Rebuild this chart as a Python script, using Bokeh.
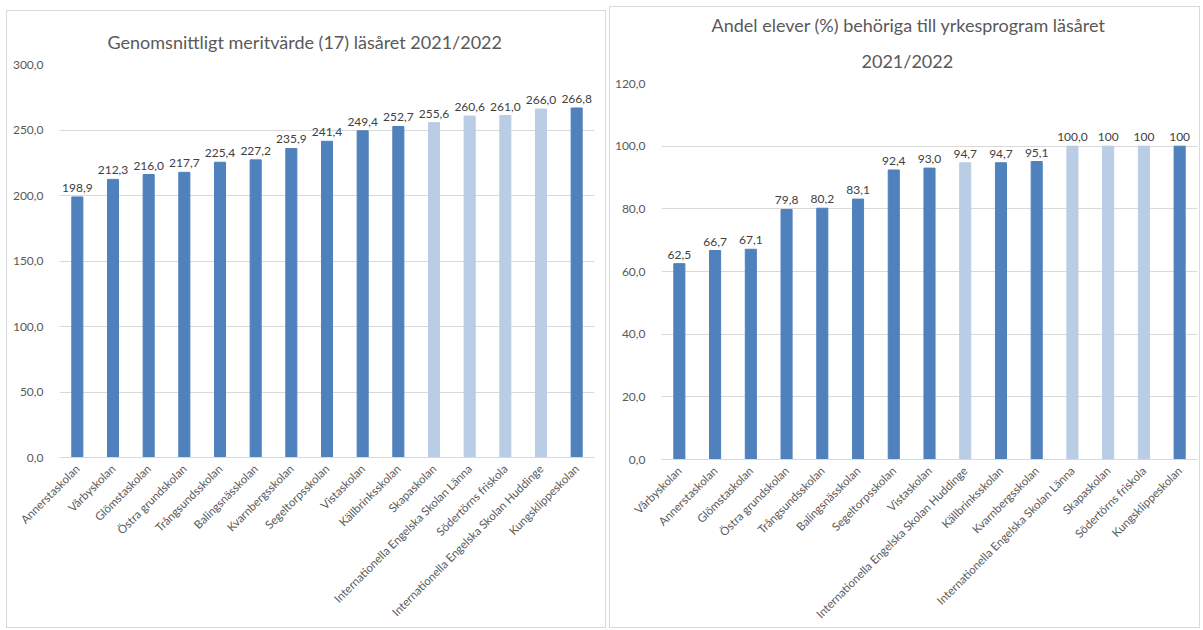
import math
from bokeh.plotting import figure
from bokeh.models import ColumnDataSource, FactorRange, Range1d, FixedTicker, Title, Spacer
from bokeh.layouts import row, column
from bokeh.embed import file_html
from bokeh.resources import INLINE

# ---- data: chart 1 ----
schools1 = ["Annerstaskolan", "Vårbyskolan", "Glömstaskolan", "Östra grundskolan",
            "Trångsundsskolan", "Balingsnässkolan", "Kvarnbergsskolan", "Segeltorpsskolan",
            "Vistaskolan", "Källbrinksskolan", "Skapaskolan",
            "Internationella Engelska Skolan Länna", "Södertörns friskola",
            "Internationella Engelska Skolan Huddinge", "Kungsklippeskolan"]
merit = [198.9, 212.3, 216.0, 217.7, 225.4, 227.2, 235.9, 241.4, 249.4, 252.7,
         255.6, 260.6, 261.0, 266.0, 266.8]
merit_labels = ["198,9", "212,3", "216,0", "217,7", "225,4", "227,2", "235,9", "241,4",
                "249,4", "252,7", "255,6", "260,6", "261,0", "266,0", "266,8"]
independent1 = [0, 0, 0, 0, 0, 0, 0, 0, 0, 0, 1, 1, 1, 1, 0]
yticks1 = [0, 50, 100, 150, 200, 250, 300]
ytick_labels1 = ["0,0", "50,0", "100,0", "150,0", "200,0", "250,0", "300,0"]
title1 = ["Genomsnittligt meritvärde (17) läsåret 2021/2022"]

# ---- data: chart 2 ----
schools2 = ["Vårbyskolan", "Annerstaskolan", "Glömstaskolan", "Östra grundskolan",
            "Trångsundsskolan", "Balingsnässkolan", "Segeltorpsskolan", "Vistaskolan",
            "Internationella Engelska Skolan Huddinge", "Källbrinksskolan",
            "Kvarnbergsskolan", "Internationella Engelska Skolan Länna", "Skapaskolan",
            "Södertörns friskola", "Kungsklippeskolan"]
share = [62.5, 66.7, 67.1, 79.8, 80.2, 83.1, 92.4, 93.0, 94.7, 94.7, 95.1,
         100.0, 100.0, 100.0, 100.0]
share_labels = ["62,5", "66,7", "67,1", "79,8", "80,2", "83,1", "92,4", "93,0",
                "94,7", "94,7", "95,1", "100,0", "100", "100", "100"]
independent2 = [0, 0, 0, 0, 0, 0, 0, 0, 1, 0, 0, 1, 1, 1, 0]
yticks2 = [0, 20, 40, 60, 80, 100, 120]
ytick_labels2 = ["0,0", "20,0", "40,0", "60,0", "80,0", "100,0", "120,0"]
title2 = ["Andel elever (%) behöriga till yrkesprogram läsåret", "2021/2022"]

DARK = "#4f81bd"
LIGHT = "#b9cde5"
TXT = "#595959"
GRID = "#d9d9d9"
FONT = "Lato"


def make_chart(cats, vals, labels, indep, yticks, ylabels, ymax, titles, title_offsets,
               title_standoff, width, height, bl, br, bt, bb):
    colors = [LIGHT if f else DARK for f in indep]
    src = ColumnDataSource(dict(x=cats, top=vals, lab=labels, color=colors))
    p = figure(x_range=FactorRange(*cats), y_range=Range1d(0, ymax),
               width=width, height=height, output_backend="svg",
               toolbar_location=None, min_border_left=bl, min_border_right=br,
               min_border_top=bt, min_border_bottom=bb)
    p.vbar(x="x", top="top", width=0.31, color="color", source=src)
    p.text(x="x", y="top", text="lab", source=src, text_align="center",
           text_baseline="bottom", y_offset=-5, text_font_size="12px",
           text_color="#404040", text_font={"value": FONT})
    n = len(titles)
    for i in range(n - 1, -1, -1):
        p.add_layout(Title(text=titles[i], align="left", offset=title_offsets[i],
                           text_font_size="18px", text_font_style="normal",
                           text_color=TXT, text_font=FONT,
                           standoff=title_standoff if i == n - 1 else 0), "above")
    p.outline_line_color = None
    p.xgrid.grid_line_color = None
    p.ygrid.grid_line_color = GRID
    p.ygrid.ticker = FixedTicker(ticks=yticks)
    p.yaxis.ticker = FixedTicker(ticks=yticks)
    p.yaxis.major_label_overrides = {t: l for t, l in zip(yticks, ylabels)}
    p.yaxis.axis_line_color = None
    p.yaxis.major_tick_line_color = None
    p.yaxis.minor_tick_line_color = None
    p.yaxis.major_label_text_font_size = "12px"
    p.yaxis.major_label_text_color = TXT
    p.yaxis.major_label_text_font = FONT
    p.yaxis.major_label_standoff = 10
    p.xaxis.axis_line_color = GRID
    p.xaxis.major_tick_line_color = None
    p.xaxis.minor_tick_line_color = None
    p.xaxis.major_label_orientation = math.pi / 4
    p.xaxis.major_label_text_font_size = "11.5px"
    p.xaxis.major_label_text_color = TXT
    p.xaxis.major_label_text_font = FONT
    p.xaxis.major_label_standoff = 3
    p.styles = {"outline": "1px solid #d9d9d9"}
    return p


p1 = make_chart(schools1, merit, merit_labels, independent1, yticks1, ytick_labels1,
                300, title1, [48], 24, 598, 616, 52, 11, 53, 170)
p2 = make_chart(schools2, share, share_labels, independent2, yticks2, ytick_labels2,
                120, title2, [50, 200], 24, 589, 620, 51, 2, 76, 166)

layout = column(Spacer(height=7),
                row(Spacer(width=7), column(Spacer(height=4), p1), Spacer(width=5), column(p2)))
open("out.html", "w").write(file_html(layout, INLINE))
